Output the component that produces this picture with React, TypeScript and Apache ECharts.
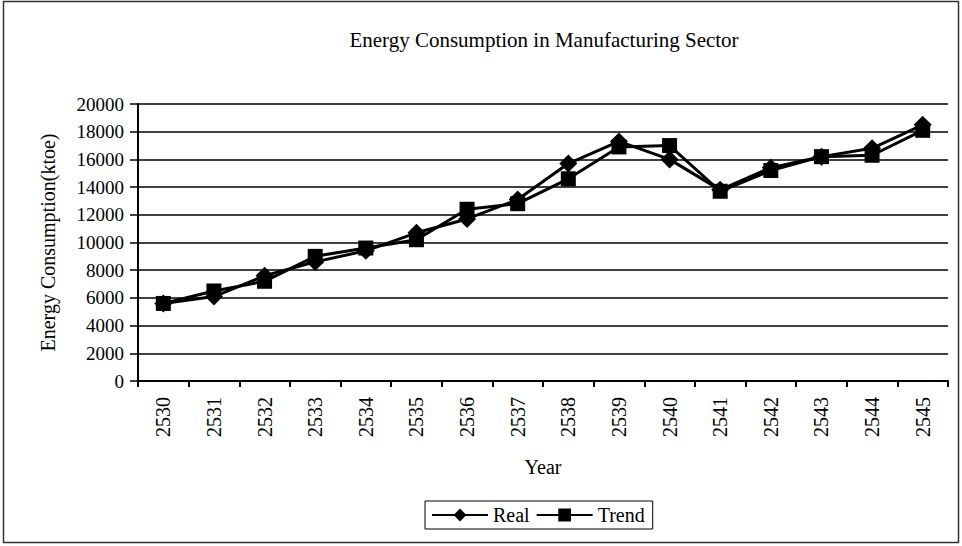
import React, { useEffect, useRef } from "react";
import * as echarts from "echarts";

const years = ["2530","2531","2532","2533","2534","2535","2536","2537","2538","2539","2540","2541","2542","2543","2544","2545"];
const realValues = [5600, 6100, 7600, 8600, 9400, 10700, 11700, 13100, 15700, 17300, 16000, 13800, 15400, 16200, 16800, 18500];
const trendValues = [5600, 6500, 7200, 9000, 9600, 10200, 12400, 12800, 14600, 16900, 17000, 13700, 15200, 16200, 16300, 18100];
const yTicks = { min: 0, max: 20000, interval: 2000 };

const FONT = "'Liberation Serif', 'Times New Roman', serif";

export default function App() {
  const ref = useRef<HTMLDivElement>(null);
  useEffect(() => {
    if (!ref.current) return;
    const chart = echarts.init(ref.current, undefined, { renderer: "svg" });
    chart.setOption({
      animation: false,
      backgroundColor: "#fff",
      textStyle: { fontFamily: FONT, color: "#000" },
      title: {
        text: "Energy Consumption in Manufacturing Sector",
        left: 539,
        textAlign: "center",
        top: 24,
        textStyle: { fontFamily: FONT, fontSize: 21, fontWeight: "normal", color: "#000" },
      },
      graphic: [
        {
          type: "rect",
          shape: { x: 3.5, y: 1.5, width: 955, height: 541 },
          style: { fill: "none", stroke: "#333", lineWidth: 1.5 },
          silent: true,
        },
      ],
      legend: {
        left: 425,
        top: 501,
        itemWidth: 56,
        itemHeight: 16,
        itemGap: 6,
        padding: [4, 8, 4, 6],
        borderColor: "#000",
        borderWidth: 1,
        textStyle: { fontFamily: FONT, fontSize: 20, color: "#000" },
        data: ["Real", "Trend"],
      },
      grid: { left: 138, right: 14, top: 104, bottom: 165, containLabel: false },
      xAxis: {
        type: "category",
        data: years,
        boundaryGap: true,
        name: "Year",
        nameLocation: "middle",
        nameGap: 76,
        nameTextStyle: { fontFamily: FONT, fontSize: 20, color: "#000" },
        axisLine: { show: true, lineStyle: { color: "#000", width: 2 } },
        axisTick: { show: true, interval: 0, length: 6, lineStyle: { color: "#000", width: 2 } },
        axisLabel: { interval: 0, rotate: 90, margin: 16, fontFamily: FONT, fontSize: 20, color: "#000" },
        splitLine: { show: false },
      },
      yAxis: {
        type: "value",
        min: yTicks.min,
        max: yTicks.max,
        interval: yTicks.interval,
        name: "Energy Consumption(ktoe)",
        nameLocation: "middle",
        nameGap: 80,
        nameTextStyle: { fontFamily: FONT, fontSize: 20, color: "#000" },
        axisLine: { show: true, lineStyle: { color: "#000", width: 2 } },
        axisTick: { show: true, length: 8, lineStyle: { color: "#000", width: 1.5 } },
        axisLabel: {
          margin: 14,
          fontFamily: FONT,
          fontSize: 19,
          color: "#000",
          formatter: (v: number) => String(v),
        },
        splitLine: { show: true, lineStyle: { color: "#000", width: 1.5 } },
      },
      series: [
        {
          name: "Real",
          type: "line",
          data: realValues,
          symbol: "diamond",
          symbolSize: 18,
          itemStyle: { color: "#000" },
          lineStyle: { color: "#000", width: 3 },
        },
        {
          name: "Trend",
          type: "line",
          data: trendValues,
          symbol: "rect",
          symbolSize: 15,
          itemStyle: { color: "#000" },
          lineStyle: { color: "#000", width: 3 },
        },
      ],
    });
    return () => chart.dispose();
  }, []);
  return (
    <div style={{ position: "absolute", left: 0, top: 0 }}>
      <div ref={ref} style={{ width: 962, height: 546 }} />
    </div>
  );
}
